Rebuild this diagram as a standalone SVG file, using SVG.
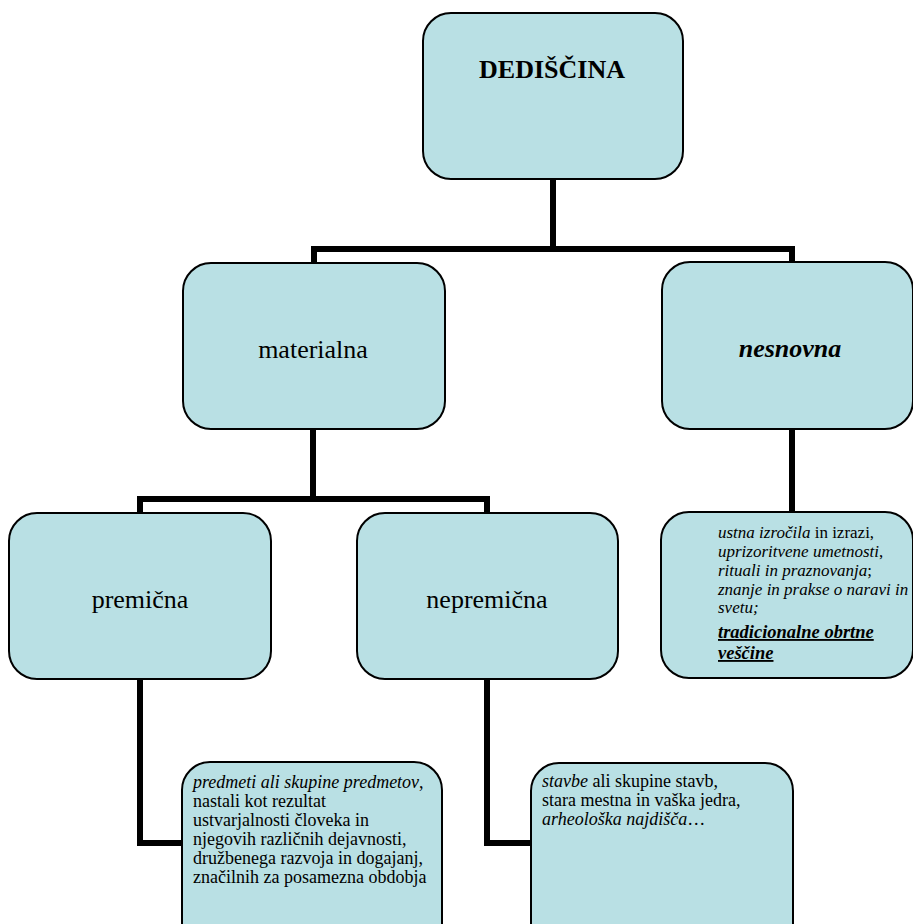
<svg xmlns="http://www.w3.org/2000/svg" width="913" height="924" viewBox="0 0 913 924">
<style>
.box{fill:#b9e0e4;stroke:#000;stroke-width:2}
.conn{fill:none;stroke:#000;stroke-width:6;stroke-linejoin:miter}
.big{font-family:"Liberation Serif","Times New Roman",serif;font-size:26px;fill:#000;text-anchor:middle}
.small{font-family:"Liberation Serif","Times New Roman",serif;font-size:18px;fill:#000}
.smaller{font-family:"Liberation Serif","Times New Roman",serif;font-size:17px;fill:#000}
.it{font-style:italic}
</style>
<rect width="913" height="924" fill="#fff"/>
<g id="connectors">
<path class="conn" d="M553 179 V249 M314 263 V249 H792 V262"/>
<path class="conn" d="M313 429 V499 M140 513 V499 H487 V513"/>
<path class="conn" d="M792 429 V512"/>
<path class="conn" d="M140 679 V843 H182"/>
<path class="conn" d="M487 679 V843 H531"/>
</g>
<g id="dediscina">
<rect class="box" x="423" y="13" width="260" height="166" rx="28"/>
<text class="big" x="552" y="78" font-weight="bold">DEDIŠČINA</text>
</g>
<g id="materialna">
<rect class="box" x="183" y="263" width="262" height="166" rx="28"/>
<text class="big" x="313" y="358">materialna</text>
</g>
<g id="nesnovna">
<rect class="box" x="662" y="262" width="251" height="167" rx="28"/>
<text class="big" x="790" y="357" font-weight="bold" font-style="italic">nesnovna</text>
</g>
<g id="premicna">
<rect class="box" x="9" y="513" width="262" height="166" rx="28"/>
<text class="big" x="140" y="608">premična</text>
</g>
<g id="nepremicna">
<rect class="box" x="357" y="513" width="261" height="166" rx="28"/>
<text class="big" x="487" y="608">nepremična</text>
</g>
<g id="nesnovna-opis">
<rect class="box" x="661" y="512" width="252" height="166" rx="28"/>
<text class="smaller" x="718"><tspan x="718" y="538"><tspan class="it">ustna izročila</tspan> in izrazi,</tspan><tspan class="it" x="718" y="557">uprizoritvene umetnosti<tspan font-style="normal">,</tspan></tspan><tspan class="it" x="718" y="576">rituali in praznovanja<tspan font-style="normal">;</tspan></tspan><tspan class="it" x="718" y="595">znanje in prakse o naravi in</tspan><tspan class="it" x="718" y="613">svetu;</tspan><tspan x="718" y="638" font-size="18.5" font-weight="bold" font-style="italic" text-decoration="underline">tradicionalne obrtne</tspan><tspan x="718" y="659" font-size="18.5" font-weight="bold" font-style="italic" text-decoration="underline">veščine</tspan></text>
</g>
<g id="premicna-opis">
<rect class="box" x="182" y="762" width="260" height="190" rx="28"/>
<text class="small"><tspan x="193" y="788"><tspan class="it">predmeti ali skupine predmetov</tspan>,</tspan><tspan x="193" y="807">nastali kot rezultat</tspan><tspan x="193" y="826">ustvarjalnosti človeka in</tspan><tspan x="193" y="845">njegovih različnih dejavnosti,</tspan><tspan x="193" y="864">družbenega razvoja in dogajanj,</tspan><tspan x="193" y="883">značilnih za posamezna obdobja</tspan></text>
</g>
<g id="nepremicna-opis">
<rect class="box" x="531" y="763" width="262" height="190" rx="28"/>
<text class="small"><tspan x="542" y="787"><tspan class="it">stavbe</tspan> ali skupine stavb,</tspan><tspan x="542" y="806">stara mestna in vaška jedra,</tspan><tspan x="542" y="825" class="it">arheološka najdišča<tspan font-style="normal">…</tspan></tspan></text>
</g>
</svg>
